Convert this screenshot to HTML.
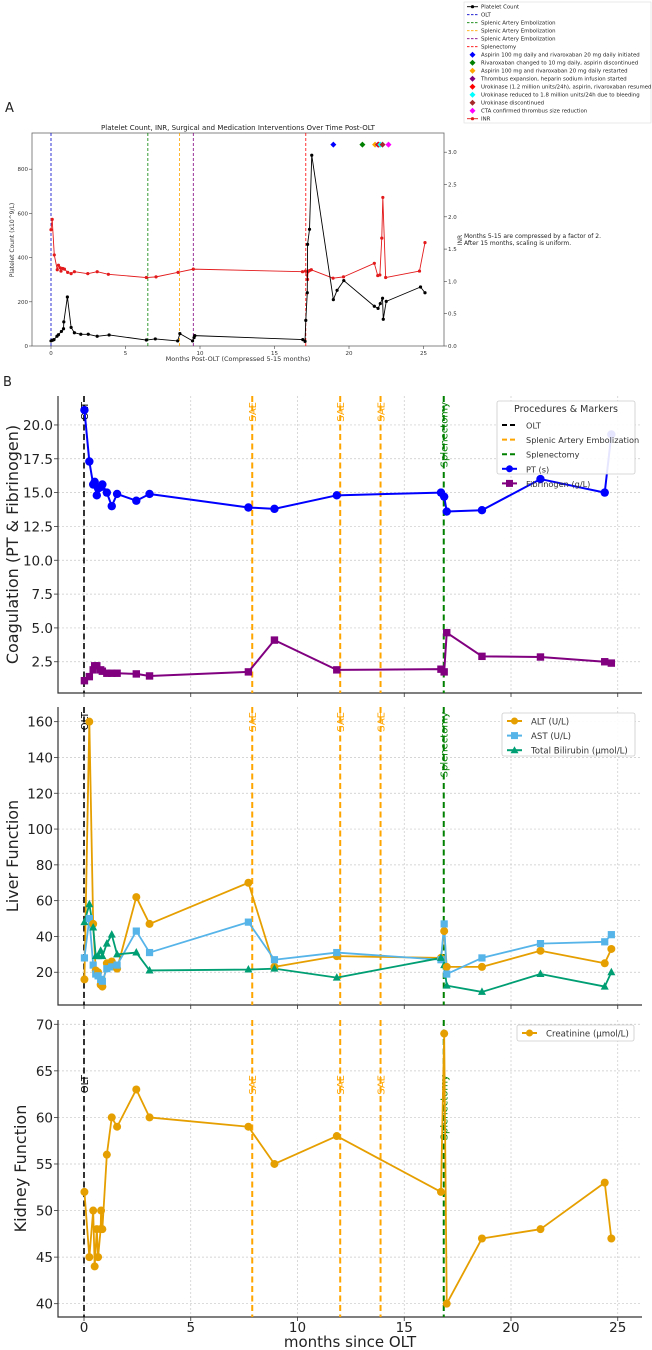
<!DOCTYPE html>
<html><head><meta charset="utf-8"><style>
html,body{margin:0;padding:0;background:#fff;}
svg{display:block;font-family:"DejaVu Sans","Liberation Sans",sans-serif;}
</style></head><body>
<svg id="fig" width="652" height="1350" viewBox="0 0 652 1350" xmlns="http://www.w3.org/2000/svg"></svg>
<script>
// ---------- Panel A data ----------
const pltMonths = [0,0.1,0.2,0.4,0.5,0.7,0.84,0.86,1.1,1.35,1.57,2.0,2.5,3.1,3.9,6.4,7.0,8.5,8.65,9.5,9.6,9.65,16.9,17.05,17.1,17.2,17.22,17.35,17.5,18.95,19.2,19.65,21.7,21.95,22.1,22.25,22.3,22.5,24.8,25.1];
const pltValues = [23,26,29,44,51,66,78,109,222,84,60,53,53,44,50,27,32,23,56,23,38,47,29,21,116,241,460,528,863,210,252,296,180,170,192,216,121,202,267,241];
const inrMonths = [0,0.08,0.22,0.42,0.5,0.62,0.67,0.79,0.9,1.12,1.35,1.57,2.47,3.1,3.85,6.4,7.05,8.53,9.55,16.88,17.08,17.22,17.25,17.36,17.47,18.93,19.63,21.7,21.93,22.07,22.2,22.27,22.46,24.73,25.1];
const inrValues = [1.80,1.96,1.41,1.18,1.25,1.21,1.16,1.20,1.19,1.14,1.12,1.15,1.12,1.15,1.11,1.06,1.07,1.14,1.19,1.15,1.16,1.03,1.15,1.17,1.18,1.05,1.07,1.28,1.09,1.10,1.67,2.30,1.06,1.16,1.60];
const eventLineMonths = [0,6.5,8.62,9.55,17.1];
const eventLineColors = ["#0000cc","#008000","#ffa500","#800080","#ff0000"];
const eventLineLabels = ["OLT","Splenic Artery Embolization","Splenic Artery Embolization","Splenic Artery Embolization","Splenectomy"];
const medMonths = [18.95,20.9,21.75,21.95,22.0,22.1,22.25,22.65];
const medColors = ["#0000ff","#008000","#ffa500","#800080","#ff0000","#00ffff","#a52a2a","#ff00ff"];
const medLabels = ["Aspirin 100 mg daily and rivaroxaban 20 mg daily initiated","Rivaroxaban changed to 10 mg daily, aspirin discontinued","Aspirin 100 mg and rivaroxaban 20 mg daily restarted","Thrombus expansion, heparin sodium infusion started","Urokinase (1.2 million units/24h), aspirin, rivaroxaban resumed","Urokinase reduced to 1.8 million units/24h due to bleeding","Urokinase discontinued","CTA confirmed thrombus size reduction"];
const medLevel = 911;
const aXTicks = [0,5,10,15,20,25];
const aLeftTicks = [0,200,400,600,800];
const aRightTicks = [0,0.5,1.0,1.5,2.0,2.5,3.0];

// ---------- Panel B data ----------
const ptMonths = [0.02,0.25,0.43,0.5,0.6,0.66,0.78,0.86,1.07,1.3,1.55,2.45,3.07,7.7,8.92,11.84,16.72,16.87,16.99,18.64,21.38,24.39,24.7];
const ptValues = [21.1,17.3,15.6,15.8,14.8,15.3,15.4,15.6,15.0,14.0,14.9,14.4,14.9,13.9,13.8,14.8,15.0,14.7,13.6,13.7,16.0,15.0,19.3];
const fibMonths = [0.02,0.25,0.43,0.5,0.6,0.78,0.86,1.07,1.3,1.55,2.45,3.07,7.7,8.92,11.84,16.72,16.87,16.99,18.64,21.38,24.39,24.7];
const fibValues = [1.1,1.4,1.9,2.2,2.2,1.9,1.8,1.65,1.65,1.65,1.6,1.45,1.75,4.1,1.9,1.95,1.75,4.65,2.9,2.85,2.5,2.4];
const livMonths = [0.02,0.25,0.43,0.55,0.66,0.78,0.86,1.07,1.3,1.55,2.45,3.07,7.7,8.92,11.84,16.72,16.87,16.99,18.64,21.38,24.39,24.7];
const altValues = [16,160,47,21,20,13,12,25,26,22,62,47,70,23,29,28,43,23,23,32,25,33];
const astValues = [28,50,24,19,18,16,15,22,23,24,43,31,48,27,31,27,47,19,28,36,37,41];
const biliValues = [48,58,45,29,29,32,29,36,41,30,31,21,21.5,22,17,28,24,12.5,9,19,12,20];
const creMonths = [0.02,0.25,0.43,0.5,0.6,0.66,0.78,0.8,0.86,1.07,1.3,1.55,2.45,3.07,7.7,8.92,11.84,16.72,16.87,16.99,18.64,21.38,24.39,24.7];
const creValues = [52,45,50,44,48,45,48,50,48,56,60,59,63,60,59,55,58,52,69,40,47,48,53,47];
const procMonths = [0,7.88,12.0,13.89,16.85];
const procLabels = ["OLT","SAE","SAE","SAE","Splenectomy"];
const procColors = ["#000000","#ffa500","#ffa500","#ffa500","#008000"];
const bXTicks = [0,5,10,15,20,25];
const coagTicks = [2.5,5.0,7.5,10.0,12.5,15.0,17.5,20.0];
const liverTicks = [20,40,60,80,100,120,140,160];
const kidneyTicks = [40,45,50,55,60,65,70];

const NS = "http://www.w3.org/2000/svg";
const svg = document.getElementById("fig");
function mk(tag, attrs, parent) {
  const e = document.createElementNS(NS, tag);
  for (const k in attrs) e.setAttribute(k, attrs[k]);
  (parent || svg).appendChild(e);
  return e;
}
function txt(s, attrs, parent) { const e = mk("text", attrs, parent); e.textContent = s; return e; }

// ================= PANEL A =================
const xA = m => 51 + m * 14.9;
const yP = v => 346 - v * 0.221;
const yI = v => 346 - v * 64.6;
const gA = mk("g", {});


let t = txt("A", {x: 5, y: 112, "font-size": 13, fill: "#222"}, gA);


t = txt("Platelet Count, INR, Surgical and Medication Interventions Over Time Post-OLT", {x: 238, y: 130, "font-size": 7, "text-anchor": "middle", fill: "#222"}, gA);


let box = mk("rect", {x: 32, y: 133, width: 412, height: 213, fill: "none", stroke: "#666", "stroke-width": 0.8}, gA);


aXTicks.forEach(v => {
  const l = mk("line", {x1: xA(v), x2: xA(v), y1: 346, y2: 349, stroke: "#444", "stroke-width": 0.6}, gA);
  
  
  const s = txt(String(v), {x: xA(v), y: 355, "font-size": 5.5, "text-anchor": "middle", fill: "#333"}, gA);
  
  
});
aLeftTicks.forEach(v => {
  const l = mk("line", {x1: 29, x2: 32, y1: yP(v), y2: yP(v), stroke: "#444", "stroke-width": 0.6}, gA);
  
  
  const s = txt(String(v), {x: 28, y: yP(v) + 2, "font-size": 5.5, "text-anchor": "end", fill: "#333"}, gA);
  
  
});
aRightTicks.forEach(v => {
  const l = mk("line", {x1: 444, x2: 447, y1: yI(v), y2: yI(v), stroke: "#444", "stroke-width": 0.6}, gA);
  
  
  const s = txt(v.toFixed(1), {x: 448, y: yI(v) + 2, "font-size": 5.5, fill: "#333"}, gA);
  
  
});
t = txt("Platelet Count (x10^9/L)", {x: 14, y: 240, "font-size": 6, "text-anchor": "middle", fill: "#333", transform: "rotate(-90 14 240)"}, gA);


t = txt("INR", {x: 462, y: 240, "font-size": 6, "text-anchor": "middle", fill: "#333", transform: "rotate(-90 462 240)"}, gA);


t = txt("Months Post-OLT (Compressed 5-15 months)", {x: 238, y: 361, "font-size": 6.5, "text-anchor": "middle", fill: "#333"}, gA);


t = txt("Months 5-15 are compressed by a factor of 2.", {x: 464, y: 238, "font-size": 6, fill: "#222"}, gA);


t = txt("After 15 months, scaling is uniform.", {x: 464, y: 245, "font-size": 6, fill: "#222"}, gA);


eventLineMonths.forEach((m, i) => {
  const l = mk("line", {x1: xA(m), x2: xA(m), y1: 133, y2: 346, stroke: eventLineColors[i], "stroke-width": 0.8, "stroke-dasharray": "3,2"}, gA);
  
  
});
function polyline(ms, vs, fx, fy, color, w, parent, name) {
  const p = mk("polyline", {points: ms.map((m, i) => fx(m) + "," + fy(vs[i])).join(" "), fill: "none", stroke: color, "stroke-width": w, "stroke-linejoin": "round"}, parent);
  
  
  return p;
}
polyline(inrMonths, inrValues, xA, yI, "#e31a1c", 0.9, gA, 'inr-line');
inrMonths.forEach((m, i) => {
  const c = mk("circle", {cx: xA(m), cy: yI(inrValues[i]), r: 1.6, fill: "#e31a1c"}, gA);
  
  
});
polyline(pltMonths, pltValues, xA, yP, "#000", 0.9, gA, 'platelet-line');
pltMonths.forEach((m, i) => {
  const c = mk("circle", {cx: xA(m), cy: yP(pltValues[i]), r: 1.6, fill: "#000"}, gA);
  
  
});
function diamond(cx, cy, r, color, parent) {
  return mk("polygon", {points: `${cx},${cy - r} ${cx + r},${cy} ${cx},${cy + r} ${cx - r},${cy}`, fill: color}, parent);
}
medMonths.forEach((m, i) => {
  const d = diamond(xA(m), yP(medLevel), 3, medColors[i], gA);
  
  
});
// legend A
const lgA = mk("g", {}, gA);


const lgr = mk("rect", {x: 464, y: 2, width: 187, height: 121, fill: "#fff", stroke: "#ddd", "stroke-width": 0.6}, lgA);


const legItems = [{k: "line", c: "#000", l: "Platelet Count", dot: true}];
eventLineLabels.forEach((l, i) => legItems.push({k: "dash", c: eventLineColors[i], l: l}));
medLabels.forEach((l, i) => legItems.push({k: "dia", c: medColors[i], l: l}));
legItems.push({k: "line", c: "#e31a1c", l: "INR", dot: true});
legItems.forEach((it, i) => {
  const y = 6.7 + i * 8;
  const g = mk("g", {}, lgA);
  
  
  if (it.k === "line") {
    mk("line", {x1: 467, x2: 478, y1: y, y2: y, stroke: it.c, "stroke-width": 0.9}, g);
    mk("circle", {cx: 472.5, cy: y, r: 1.6, fill: it.c}, g);
  } else if (it.k === "dash") {
    mk("line", {x1: 467, x2: 478, y1: y, y2: y, stroke: it.c, "stroke-width": 0.8, "stroke-dasharray": "2.5,1.5"}, g);
  } else {
    diamond(472.5, y, 3, it.c, g);
  }
  txt(it.l, {x: 481, y: y + 2, "font-size": 5.4, fill: "#222"}, g);
});

// ================= PANEL B =================
const xB = m => 84 + m * 21.35;
const L = 58, R = 642;
t = txt("B", {x: 3, y: 386, "font-size": 13, fill: "#222"});



function subplot(name, top, bottom, ymin, ymax, ticks, fmt, ytitle, titleX, procTextTop) {
  const g = mk("g", {});
  
  
  const fy = v => bottom - (v - ymin) / (ymax - ymin) * (bottom - top);
  bXTicks.forEach(v => {
    const l = mk("line", {x1: xB(v), x2: xB(v), y1: top, y2: bottom, stroke: "#c8c8c8", "stroke-width": 0.7, "stroke-dasharray": "2,2"}, g);
    
    
    const tk = mk("line", {x1: xB(v), x2: xB(v), y1: bottom, y2: bottom + 4, stroke: "#333", "stroke-width": 0.8}, g);
    
    
  });
  ticks.forEach(v => {
    const l = mk("line", {x1: L, x2: R, y1: fy(v), y2: fy(v), stroke: "#c8c8c8", "stroke-width": 0.7, "stroke-dasharray": "2,2"}, g);
    
    
    const tk = mk("line", {x1: L - 4, x2: L, y1: fy(v), y2: fy(v), stroke: "#333", "stroke-width": 0.8}, g);
    
    
    const s = txt(fmt(v), {x: L - 5, y: fy(v) + 5, "font-size": 13.5, "text-anchor": "end", fill: "#222"}, g);
    
    
  });
  const ax = mk("path", {d: `M${L},${top} L${L},${bottom} L${R},${bottom}`, fill: "none", stroke: "#333", "stroke-width": 1.2}, g);
  
  
  const cy = (top + bottom) / 2;
  const yt = txt(ytitle, {x: titleX, y: cy, "font-size": 16, "text-anchor": "middle", fill: "#222", transform: `rotate(-90 ${titleX} ${cy})`}, g);
  
  
  procMonths.forEach((m, i) => {
    const w = i === 0 ? 1.6 : 2;
    const l = mk("line", {x1: xB(m), x2: xB(m), y1: top, y2: bottom, stroke: procColors[i], "stroke-width": w, "stroke-dasharray": "6,3.5"}, g);
    
    
    const tx = xB(m) + 4;
    const ty = procTextTop;
    const lb = txt(procLabels[i], {x: tx, y: ty, "font-size": 10, fill: procColors[i], "text-anchor": "end", transform: `rotate(-90 ${tx} ${ty})`}, g);
    
    
  });
  return {g, fy};
}

// Coagulation
const co = subplot('coagulation-panel', 396, 693, 0.19, 22.14, coagTicks, v => v.toFixed(1), "Coagulation (PT & Fibrinogen)", 18, 402);
polyline(ptMonths, ptValues, xB, co.fy, "#0000ff", 2, co.g, 'pt-line');
ptMonths.forEach((m, i) => {
  const c = mk("circle", {cx: xB(m), cy: co.fy(ptValues[i]), r: 4.2, fill: "#0000ff"}, co.g);
  
  
});
polyline(fibMonths, fibValues, xB, co.fy, "#800080", 2, co.g, 'fibrinogen-line');
fibMonths.forEach((m, i) => {
  const r = mk("rect", {x: xB(m) - 3.7, y: co.fy(fibValues[i]) - 3.7, width: 7.4, height: 7.4, fill: "#800080"}, co.g);
  
  
});
// Liver
const lv = subplot('liver-panel', 707, 1005, 1.7, 168.2, liverTicks, v => String(v), "Liver Function", 18, 712);
polyline(livMonths, altValues, xB, lv.fy, "#e69f00", 1.8, lv.g, 'alt-line');
polyline(livMonths, astValues, xB, lv.fy, "#56b4e9", 1.8, lv.g, 'ast-line');
polyline(livMonths, biliValues, xB, lv.fy, "#009e73", 1.8, lv.g, 'bilirubin-line');
livMonths.forEach((m, i) => {
  const c = mk("circle", {cx: xB(m), cy: lv.fy(altValues[i]), r: 4, fill: "#e69f00"}, lv.g);
  
  
  const s = mk("rect", {x: xB(m) - 3.6, y: lv.fy(astValues[i]) - 3.6, width: 7.2, height: 7.2, fill: "#56b4e9"}, lv.g);
  
  
  const x = xB(m), y = lv.fy(biliValues[i]);
  const tr = mk("polygon", {points: `${x},${y - 4.5} ${x + 4},${y + 3} ${x - 4},${y + 3}`, fill: "#009e73"}, lv.g);
  
  
});
// Kidney
const kd = subplot('kidney-panel', 1020, 1317, 38.57, 70.46, kidneyTicks, v => String(v), "Kidney Function", 26, 1075);
polyline(creMonths, creValues, xB, kd.fy, "#e69f00", 1.8, kd.g, 'creatinine-line');
creMonths.forEach((m, i) => {
  const c = mk("circle", {cx: xB(m), cy: kd.fy(creValues[i]), r: 4, fill: "#e69f00"}, kd.g);
  
  
});
bXTicks.forEach(v => {
  const s = txt(String(v), {x: xB(v), y: 1332, "font-size": 13.5, "text-anchor": "middle", fill: "#222"});
  
  
});
t = txt("months since OLT", {x: 350, y: 1347, "font-size": 15, "text-anchor": "middle", fill: "#222"});



// Legends B
function legendB(name, x, y, w, h, title, items, fs) {
  const g = mk("g", {});
  
  
  mk("rect", {x: x, y: y, width: w, height: h, rx: 2, fill: "#fff", "fill-opacity": 0.9, stroke: "#ccc", "stroke-width": 0.8}, g);
  let yy = y + 8;
  if (title) {
    txt(title, {x: x + w / 2, y: y + 11, "font-size": 9.5, "text-anchor": "middle", fill: "#333"}, g);
    yy = y + 24;
  }
  items.forEach(it => {
    const e = mk("g", {}, g);
    
    
    mk("line", {x1: x + 5, x2: x + 20, y1: yy, y2: yy, stroke: it.c, "stroke-width": 2, "stroke-dasharray": it.dash ? "5,3" : "none"}, e);
    if (it.m === "o") mk("circle", {cx: x + 12.5, cy: yy, r: 3.5, fill: it.c}, e);
    if (it.m === "s") mk("rect", {x: x + 9, y: yy - 3.5, width: 7, height: 7, fill: it.c}, e);
    if (it.m === "^") mk("polygon", {points: `${x + 12.5},${yy - 4} ${x + 16.5},${yy + 3} ${x + 8.5},${yy + 3}`, fill: it.c}, e);
    txt(it.l, {x: x + 29, y: yy + 3.5, "font-size": fs, fill: "#333"}, e);
    yy += 14.6;
  });
}
legendB('coagulation-legend', 497, 401, 138, 73, "Procedures & Markers", [
  {c: "#000", l: "OLT", dash: true}, {c: "#ffa500", l: "Splenic Artery Embolization", dash: true},
  {c: "#008000", l: "Splenectomy", dash: true}, {c: "#0000ff", l: "PT (s)", m: "o"}, {c: "#800080", l: "Fibrinogen (g/L)", m: "s"}], 8.2);
legendB('liver-legend', 502, 713, 133, 43, null, [
  {c: "#e69f00", l: "ALT (U/L)", m: "o"}, {c: "#56b4e9", l: "AST (U/L)", m: "s"}, {c: "#009e73", l: "Total Bilirubin (μmol/L)", m: "^"}], 8.6);
legendB('kidney-legend', 517, 1025, 117, 16, null, [{c: "#e69f00", l: "Creatinine (μmol/L)", m: "o"}], 8.6);
</script>
</body></html>
